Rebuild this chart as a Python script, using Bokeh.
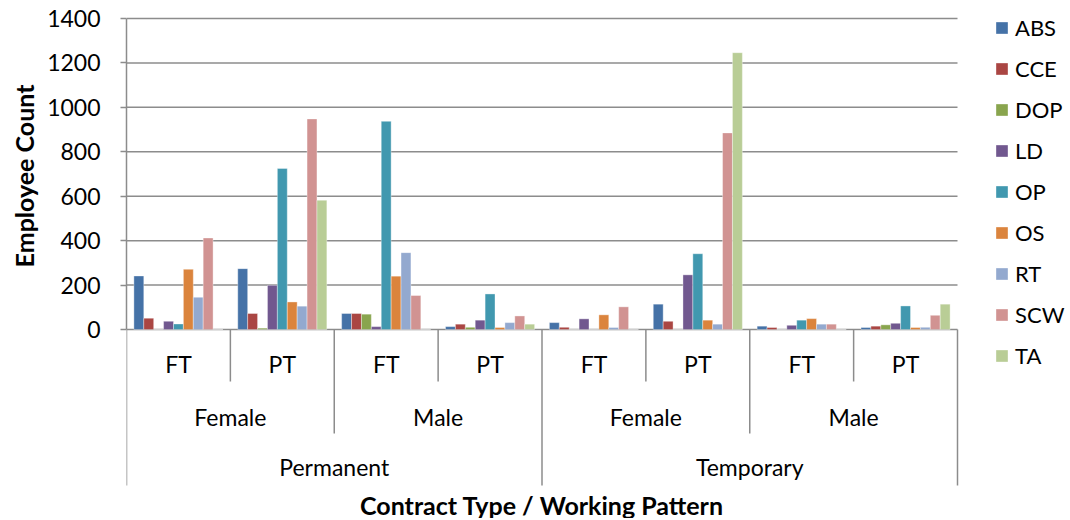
from itertools import product

from bokeh.plotting import figure
from bokeh.models import (Range1d, FixedTicker, ColumnDataSource, Legend,
                          LegendItem, Title)
from bokeh.core.properties import value
from bokeh.embed import file_html
from bokeh.resources import INLINE

# ---------------- data ----------------
contracts = ["Permanent", "Temporary"]
genders = ["Female", "Male"]
patterns = ["FT", "PT"]
series = ["ABS", "CCE", "DOP", "LD", "OP", "OS", "RT", "SCW", "TA"]

# order of groups: Perm-F-FT, Perm-F-PT, Perm-M-FT, Perm-M-PT,
#                  Temp-F-FT, Temp-F-PT, Temp-M-FT, Temp-M-PT
ABS = [241, 274, 72, 13, 31, 114, 15, 9]
CCE = [51, 72, 72, 24, 10, 37, 9, 15]
DOP = [0, 6, 69, 10, 0, 0, 0, 21]
LD = [37, 199, 13, 42, 48, 246, 19, 28]
OP = [25, 725, 937, 160, 0, 341, 42, 106]
OS = [271, 124, 240, 9, 66, 42, 49, 9]
RT = [145, 105, 346, 31, 9, 24, 24, 10]
SCW = [412, 948, 153, 61, 102, 885, 24, 64]
TA = [0, 582, 0, 24, 0, 1246, 0, 114]
values = [ABS, CCE, DOP, LD, OP, OS, RT, SCW, TA]

y_ticks = [0, 200, 400, 600, 800, 1000, 1200, 1400]

colors = ["#4572A7", "#AA4643", "#89A54E", "#71588F", "#4198AF",
          "#DB843D", "#93A9CF", "#D19392", "#B9CD96"]

# ---------------- layout constants (pixels) ----------------
FONT = "Lato"
GRID = "#8c8c8c"
W, H = 1066, 518
FRAME_L = 126               # left edge of plotting area
PLOT_W = 831                # width covered by the 8 category groups
TOP_PX = 18                 # y of the 1400 line
ZERO_PX = 329               # y of the 0 line
Y_MAX = 1400
units_per_px = Y_MAX / (ZERO_PX - TOP_PX)

leaves = list(product(contracts, genders, patterns))
n_groups = len(leaves)
n_series = len(series)
bar_w = 0.0953
grp_px = PLOT_W / n_groups

p = figure(width=W, height=H, output_backend="svg", toolbar_location=None,
           x_range=Range1d(0, (W - FRAME_L) / grp_px),
           y_range=Range1d(-(H - ZERO_PX) * units_per_px,
                           Y_MAX + TOP_PX * units_per_px),
           min_border_left=FRAME_L, min_border_right=0,
           min_border_top=0, min_border_bottom=0,
           x_axis_location=None)
p.extra_y_ranges = {"tbl": Range1d(start=H - ZERO_PX, end=-ZERO_PX)}
p.outline_line_color = None
p.xgrid.visible = False
p.ygrid.visible = False

ax = p.yaxis[0]
ax.ticker = FixedTicker(ticks=y_ticks)
ax.bounds = (0, Y_MAX)
ax.axis_line_color = GRID
ax.axis_line_width = 1.5
ax.major_tick_line_color = GRID
ax.major_tick_line_width = 1.5
ax.major_tick_out = 6
ax.major_tick_in = 0
ax.minor_tick_line_color = None
ax.major_label_text_font = FONT
ax.major_label_text_font_size = "23px"
ax.major_label_text_color = "#000000"
ax.major_label_standoff = 20

# horizontal gridlines across the category area only
p.segment(x0=[0] * len(y_ticks), x1=[n_groups] * len(y_ticks),
          y0=y_ticks, y1=y_ticks, line_color=GRID, line_width=1.5,
          level="underlay")

# y axis title (left panel, anchored from the top)
p.add_layout(Title(text="Employee Count", align="right", offset=84,
                   text_font=FONT, text_font_size="25px",
                   text_font_style="bold", text_color="#000000",
                   standoff=12), "left")

# ---------------- bars ----------------
items = []
for i, (name, vals, col) in enumerate(zip(series, values, colors)):
    xs = [g + 0.5 + (i - (n_series - 1) / 2) * bar_w for g in range(n_groups)]
    src = ColumnDataSource(dict(x=xs, top=vals))
    r = p.vbar(x="x", top="top", bottom=0, width=bar_w, source=src,
               fill_color=col, line_color="white", line_alpha=0.45,
               line_width=0.8)
    items.append(LegendItem(label=name, renderers=[r]))

legend = Legend(items=items, location=(868, 149), glyph_width=15,
                glyph_height=15, label_height=27, spacing=14, padding=5,
                margin=0, border_line_color=None, background_fill_alpha=0,
                label_text_font=FONT, label_text_font_size="22px",
                label_text_color="#000000", label_standoff=6)
p.add_layout(legend)

# ---------------- category table below the axis ----------------
ROW = 52
sx0, sy1 = [], []
for b in range(n_groups + 1):
    if b == 0 or b == n_groups:
        depth = 3
    else:
        prev, nxt = leaves[b - 1], leaves[b]
        depth = 3 if prev[0] != nxt[0] else (2 if prev[1] != nxt[1] else 1)
    sx0.append(b)
    sy1.append(depth * ROW)
p.segment(x0=sx0, y0=[0] * len(sx0), x1=sx0, y1=sy1, y_range_name="tbl",
          line_color=GRID, line_width=1.5)

# level 3 labels (pattern)
p.text(x=[g + 0.5 for g in range(n_groups)], y=[34] * n_groups,
       text=[lf[2] for lf in leaves], y_range_name="tbl",
       text_font=value(FONT), text_font_size="23px", text_align="center",
       text_baseline="middle", text_color="#000000")
# level 2 labels (gender)
g2 = [(c, g) for c, g in product(contracts, genders)]
p.text(x=[k * 2 + 1 for k in range(len(g2))], y=[87] * len(g2),
       text=[g for _, g in g2], y_range_name="tbl",
       text_font=value(FONT), text_font_size="23px", text_align="center",
       text_baseline="middle", text_color="#000000")
# level 1 labels (contract)
p.text(x=[k * 4 + 2 for k in range(len(contracts))], y=[137] * len(contracts),
       text=contracts, y_range_name="tbl",
       text_font=value(FONT), text_font_size="23px", text_align="center",
       text_baseline="middle", text_color="#000000")
# x axis title
p.text(x=[n_groups / 2], y=[175], text=["Contract Type / Working Pattern"],
       y_range_name="tbl", text_font=value(FONT), text_font_size="25px",
       text_font_style="bold", text_align="center", text_baseline="middle",
       text_color="#000000")

open("out.html", "w").write(file_html(p, INLINE))
